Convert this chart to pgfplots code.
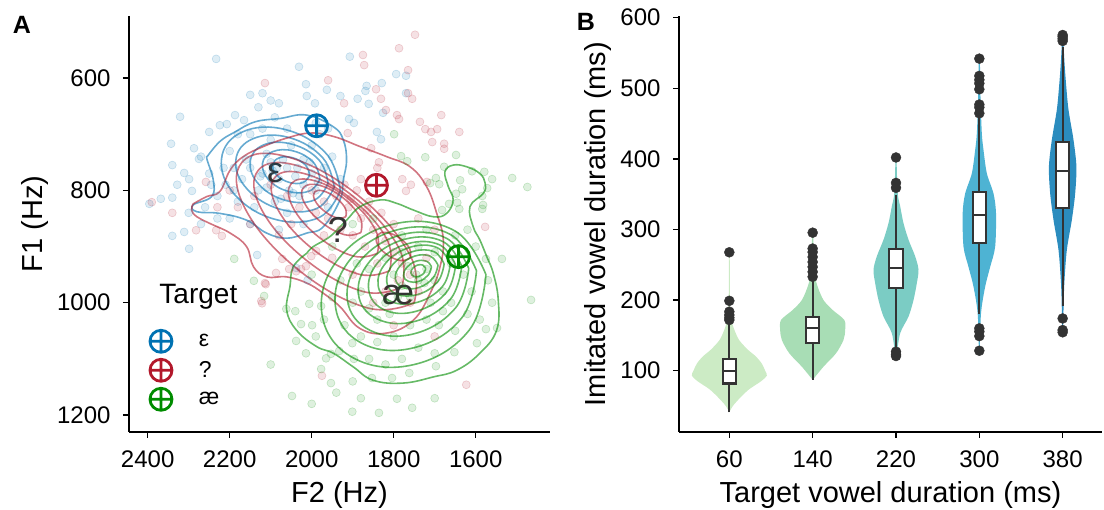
\documentclass[border=0pt]{standalone}
\usepackage{fontspec}
\setmainfont{Liberation Sans}
\usepackage{pgfplots}
\pgfplotsset{compat=1.18}
\definecolor{cblue}{RGB}{0,114,178}
\definecolor{cred}{RGB}{178,24,43}
\definecolor{cgreen}{RGB}{0,140,0}
\definecolor{dk}{RGB}{51,51,51}
\definecolor{va}{RGB}{204,235,197}
\definecolor{vb}{RGB}{168,221,181}
\definecolor{vc}{RGB}{123,204,196}
\definecolor{vd}{RGB}{78,179,211}
\definecolor{ve}{RGB}{43,140,190}
\pgfplotsset{
  myaxis/.style={scale only axis,
    axis x line=bottom, axis y line=left,
    axis line style={-, line width=1.5pt},
    tick style={line width=1.3pt, black}, major tick length=6pt, tick align=outside,
    /pgf/number format/assume math mode=true, /pgf/number format/1000 sep={},
    ticklabel style={font=\fontsize{24}{26}\selectfont},
    xticklabel style={yshift=-9pt}, yticklabel style={xshift=-9pt},
    label style={font=\fontsize{29}{31}\selectfont}},
  pts/.style={only marks, mark=*, mark size=4pt, forget plot, mark options={draw=#1, fill=#1, fill opacity=0.13, draw opacity=0.2, line width=0.6pt}},
  cont/.style={#1, draw opacity=0.6, line width=1.6pt, smooth, tension=0.7, forget plot, mark=none},
  tgt/.style={only marks, mark=oplus, mark size=11pt, line width=2.8pt, draw=#1, mark options={draw=#1, fill=white}},
  whisk/.style={dk, line width=2.2pt, forget plot},
  box/.style={draw=dk, fill=white, line width=2.2pt, line cap=rect, forget plot},
  outl/.style={only marks, mark=*, mark size=5pt, dk, forget plot},
  viol/.style={fill=#1, draw=none, smooth, tension=0.5, forget plot}
}
\begin{document}
\begin{tikzpicture}[x=1pt,y=1pt]
% ---------------- Panel A ----------------
\begin{axis}[myaxis, at={(129pt,78pt)}, anchor=south west, width=421pt, height=416pt,
  xmin=1418.8, xmax=2445.6, ymin=489.6, ymax=1230.1, x dir=reverse, y dir=reverse,
  axis line style={-},
  xtick={1600,1800,2000,2200,2400}, ytick={600,800,1000,1200},
  xlabel={F2 (Hz)}, ylabel={F1 (Hz)},
  xlabel style={at={(axis description cs:0.5,-0.151)}, anchor=center},
  ylabel style={at={(axis description cs:-0.223,0.5)}, anchor=center},
  legend style={at={(axis description cs:0.047,0.245)}, anchor=north west, draw=none, fill=none,
    font=\fontsize{23}{25}\selectfont, row sep=7pt, inner sep=0pt, nodes={inner sep=2pt}},
  legend cell align=left,
  legend image code/.code={\path[draw=none,fill=none] (0pt,-10pt) rectangle (48pt,10pt); \draw[#1] plot coordinates {(12pt,0pt)};}]
% scatter
\addplot[pts=cblue] coordinates {(2233,566)(2031,580)(2014,611)(1963,621)(2150,630)(2120,627)(2100,640)(2080,645)(2130,652)(2012,632)(1992,645)(2321,669)(2187,666)(2250,696)(2224,684)(2207,682)(2343,717)(2340,755)(2328,790)(2311,769)(2299,780)(2396,824)(2368,815)(2340,813)(2287,725)(2275,744)(2292,801)(1907,562)(1794,593)(1770,596)(1829,609)(1866,614)(1869,623)(1861,646)(1888,637)(1930,632)(1770,627)(1826,662)(1909,673)(1897,680)(1841,696)(1831,709)(2340,881)(2311,874)(2299,904)(2133,915)
(2150,760)(2120,770)(2100,750)(2080,780)(2060,760)(2040,775)(2020,790)(2000,770)(2110,795)(2170,780)(2190,760)(2210,790)(2230,810)(2180,820)(2140,830)(2090,820)(2060,840)(2030,810)(1990,800)(1970,760)(1950,740)(2000,720)(2050,720)(2100,710)(2150,700)(2200,730)(2250,770)(2260,830)(2200,850)(2150,860)(2080,870)(2020,860)(1960,830)(1930,780)(1980,700)(2060,690)(2120,690)(2180,700)(2230,850)(2270,860)(2160,745)(2070,745)(2020,745)(2110,735)(2130,800)(2095,765)(2045,805)(2190,800)(2245,790)(2038,938)(2010,960)
(2165,675)(2090,670)(1990,680)(1960,690)(2270,740)(2300,840)(2215,760)(2055,800)(2075,815)(2125,775)(2005,750)(1985,785)(2035,760)(2085,760)};
\addplot[pts=cred] coordinates {(2114,609)(1960,604)(2390,821)(2340,840)(2258,785)(1748,523)(1787,547)(1875,559)(1872,577)(1765,586)(1843,620)(1831,637)(1765,627)(1755,637)(1921,645)(1819,657)(1792,666)(1787,673)(1684,666)(1736,678)(1723,691)(1709,696)(1694,691)(1706,714)(1640,696)(1677,717)(1677,726)(1912,698)(1855,725)(1836,750)(1779,780)(1758,790)(1719,785)(1770,801)(2282,871)(2233,871)(2219,881)(2123,997)(2112,967)(2087,947)(2072,922)(2055,940)(2038,944)(2026,940)(2001,917)(1989,908)(2014,935)(1975,1130)(1623,1146)(2121,1001)(2114,965)(1577,865)
(2000,800)(1970,820)(1940,810)(1910,830)(1880,850)(1850,870)(1820,890)(1800,910)(1780,930)(1760,950)(1960,850)(1930,870)(1900,880)(1870,900)(1840,930)(1990,840)(2030,830)(2060,810)(2100,790)(2140,810)(2180,830)(1920,790)(1890,800)(1860,820)(1830,840)(1800,860)(1790,960)(1820,980)(1850,1000)(1760,1000)(1740,980)(1900,950)(1950,920)(1880,780)(1840,760)(1720,920)(1700,870)(1740,850)(1970,880)(2080,880)(1800,1040)(1700,1060)(1950,790)(1905,815)(1865,835)(2050,860)(2150,860)(2200,800)(2230,830)};
\addplot[pts=cgreen] coordinates {(1799,700)(1782,739)(1767,748)(1723,741)(1648,737)(1677,758)(1697,778)(1689,789)(1711,787)(1609,766)(1579,767)(1560,780)(1511,778)(1474,794)(1638,782)(1633,798)(1648,806)(1645,822)(1665,824)(1682,835)(1640,833)(1572,796)(1584,810)(1582,826)(1584,833)(2189,922)(2141,961)(2116,988)(2062,1011)(2040,1015)(2026,1038)(2006,1002)(1977,1006)(1999,1040)(2038,1068)(2014,1090)(1977,1118)(1953,1143)(2048,1166)(1965,1099)(1953,1091)(1536,922)(1575,922)(1548,1045)(1465,995)(1575,1047)(1597,1072)(1652,1088)(1792,1171)(1755,1187)(1836,1196)(1901,1194)(1697,1113)(1762,1125)(1804,1134)(1853,1134)(1901,1072)(1933,1086)(1897,1100)
(1800,950)(1780,970)(1760,990)(1740,960)(1720,940)(1700,960)(1680,980)(1660,1000)(1820,1000)(1840,1030)(1860,1010)(1880,980)(1900,1000)(1920,1040)(1880,1060)(1840,1070)(1800,1060)(1760,1040)(1720,1030)(1690,1040)(1650,1050)(1620,1020)(1610,980)(1630,950)(1660,930)(1700,910)(1740,900)(1780,910)(1820,920)(1860,940)(1890,930)(1930,960)(1950,990)(1970,1030)(1990,1060)(1600,900)(1620,870)(1650,880)(1700,1090)(1740,1080)(1780,1100)(1820,1110)(1860,1100)(1900,1140)(1940,1160)(1850,850)(1900,860)(1950,900)(2000,950)(1780,880)(1720,870)(1570,960)(1560,1000)(1590,1030)(1880,1170)(2100,1110)(2000,1180)(1700,1170)(1745,950)(1765,935)(1725,965)(1790,990)(1710,1000)(1810,1020)(1680,1015)};
% blue contours
\addplot[cont=cblue] coordinates {(2255,740)(2224,713)(2187,696)(2138,678)(2077,672)(2012,666)(1947,687)(1923,710)(1915,746)(1923,782)(1931,817)(1972,865)(2012,876)(2061,885)(2110,876)(2159,853)(2224,841)(2280,838)(2289,826)(2244,811)(2240,782)(2255,746)(2255,740)};
\addplot[cont=cblue] coordinates {(1930,800)(1981,848)(2087,852)(2186,809)(2220,744)(2169,696)(2063,692)(1964,735)(1930,800)};
\addplot[cont=cblue] coordinates {(1945,794)(1987,832)(2075,834)(2157,798)(2185,746)(2143,708)(2055,706)(1973,742)(1945,794)};
\addplot[cont=cblue] coordinates {(1960,787)(1993,817)(2063,818)(2128,790)(2150,749)(2117,719)(2047,718)(1982,746)(1960,787)};
\addplot[cont=cblue] coordinates {(1980,780)(2005,801)(2056,802)(2104,782)(2120,752)(2095,731)(2044,730)(1996,750)(1980,780)};
\addplot[cont=cblue] coordinates {(2005,773)(2021,786)(2054,786)(2085,773)(2095,755)(2079,742)(2046,742)(2015,755)(2005,773)};
% red contours
\addplot[cont=cred] coordinates {(2289,824)(2256,811)(2224,802)(2199,764)(2167,740)(2118,722)(2061,707)(2004,698)(1947,704)(1882,722)(1817,740)(1760,758)(1720,793)(1695,841)(1679,888)(1687,936)(1711,983)(1752,1031)(1817,1054)(1882,1046)(1931,1007)(1972,983)(2012,965)(2061,954)(2110,954)(2142,936)(2159,900)(2199,876)(2248,859)(2280,847)(2293,835)(2289,824)};
\addplot[cont=cred] coordinates {(1750,1000)(1865,1009)(2035,940)(2162,833)(2170,750)(2056,741)(1885,810)(1759,917)(1750,1000)};
\addplot[cont=cred] coordinates {(1780,972)(1875,980)(2017,922)(2123,833)(2130,764)(2035,756)(1893,814)(1787,903)(1780,972)};
\addplot[cont=cred] coordinates {(1810,943)(1886,949)(2000,903)(2084,832)(2090,777)(2014,771)(1900,817)(1816,888)(1810,943)};
\addplot[cont=cred] coordinates {(1840,912)(1898,917)(1983,883)(2046,830)(2050,788)(1992,783)(1907,817)(1844,871)(1840,912)};
\addplot[cont=cred] coordinates {(1880,875)(1919,879)(1976,857)(2018,822)(2020,795)(1981,791)(1924,813)(1882,848)(1880,875)};
\addplot[cont=cred] coordinates {(1917,847)(1938,849)(1969,837)(1992,818)(1993,803)(1972,801)(1941,813)(1918,832)(1917,847)};
\addplot[cont=cred] coordinates {(1760,920)(1782,925)(1815,915)(1839,897)(1840,880)(1818,875)(1785,885)(1761,904)(1760,920)};
% green contours
\addplot[cont=cgreen] coordinates {(2012,912)(2045,936)(2053,971)(2061,1013)(2037,1049)(1988,1078)(1947,1090)(1899,1114)(1850,1138)(1777,1143)(1703,1132)(1646,1120)(1590,1090)(1549,1049)(1545,995)(1557,948)(1573,918)(1590,888)(1606,865)(1614,829)(1581,805)(1577,787)(1590,770)(1622,758)(1655,755)(1675,767)(1667,793)(1655,817)(1671,841)(1703,847)(1752,835)(1793,823)(1833,817)(1882,829)(1915,853)(1955,882)(1996,900)(2012,912)};
\addplot[cont=cgreen] coordinates {(1575,950)(1616,1049)(1750,1110)(1899,1098)(1975,1020)(1934,921)(1800,860)(1651,872)(1575,950)};
\addplot[cont=cgreen] coordinates {(1598,943)(1634,1027)(1750,1080)(1878,1072)(1942,1007)(1906,923)(1790,870)(1663,878)(1598,943)};
\addplot[cont=cgreen] coordinates {(1617,939)(1649,1009)(1749,1055)(1858,1049)(1913,995)(1881,925)(1781,879)(1672,885)(1617,939)};
\addplot[cont=cgreen] coordinates {(1634,935)(1662,994)(1747,1033)(1840,1029)(1886,985)(1858,926)(1773,887)(1680,891)(1634,935)};
\addplot[cont=cgreen] coordinates {(1649,933)(1672,982)(1744,1015)(1822,1013)(1861,977)(1838,928)(1766,895)(1688,897)(1649,933)};
\addplot[cont=cgreen] coordinates {(1662,931)(1681,971)(1741,999)(1806,998)(1838,969)(1819,929)(1759,901)(1694,902)(1662,931)};
\addplot[cont=cgreen] coordinates {(1677,931)(1693,963)(1740,985)(1792,985)(1817,963)(1801,931)(1754,909)(1702,909)(1677,931)};
\addplot[cont=cgreen] coordinates {(1692,933)(1704,956)(1739,973)(1777,973)(1796,957)(1784,934)(1749,917)(1711,917)(1692,933)};
\addplot[cont=cgreen] coordinates {(1708,936)(1716,951)(1739,962)(1764,962)(1776,952)(1768,937)(1745,926)(1720,926)(1708,936)};
\addplot[cont=cgreen] coordinates {(1722,939)(1726,947)(1738,953)(1751,953)(1758,947)(1754,939)(1742,933)(1729,933)(1722,939)};
% targets
\addplot[tgt=cblue] coordinates {(1988,685)}; \addlegendentry{ε}
\addplot[tgt=cred] coordinates {(1842,791)}; \addlegendentry{?}
\addplot[tgt=cgreen] coordinates {(1642,918)}; \addlegendentry{æ}
\node[text=dk, font=\fontsize{36}{36}\selectfont] at (axis cs:2089,769) {ε};
\node[text=dk, font=\fontsize{36}{36}\selectfont] at (axis cs:1936,870) {?};
\node[text=dk, font=\fontsize{36}{36}\selectfont] at (axis cs:1789,986) {æ};
\node[anchor=west, font=\fontsize{28}{30}\selectfont] at (axis description cs:0.064,0.325) {Target};
\end{axis}
% ---------------- Panel B ----------------
\begin{axis}[myaxis, at={(679pt,78pt)}, anchor=south west, width=423pt, height=416pt,
  xmin=-0.604, xmax=4.472, ymin=13.2, ymax=602.4,
  axis line style={-},
  xtick={0,1,2,3,4}, xticklabels={60,140,220,300,380}, ytick={100,200,300,400,500,600},
  xlabel={Target vowel duration (ms)}, ylabel={Imitated vowel duration (ms)},
  xlabel style={at={(axis description cs:0.5,-0.151)}, anchor=center},
  ylabel style={at={(axis description cs:-0.1915,0.5)}, anchor=center}]
% violins
\addplot[viol=va] coordinates {(0,41)(0.036,49)(0.10,58)(0.23,73)(0.38,85)(0.45,93)(0.43,100)(0.39,110)(0.32,120)(0.22,130)(0.12,143)(0.07,155)(0.04,165)(0.02,175)(0.008,200)(0.004,268)(-0.004,268)(-0.008,200)(-0.02,175)(-0.04,165)(-0.07,155)(-0.12,143)(-0.22,130)(-0.32,120)(-0.39,110)(-0.43,100)(-0.45,93)(-0.38,85)(-0.23,73)(-0.10,58)(-0.036,49)(0,41)};
\addplot[viol=vb] coordinates {(1,87)(1.13,105.7)(1.28,124.6)(1.37,143.5)(1.39,157.7)(1.38,171.8)(1.24,186)(1.13,200)(1.06,219)(1.03,233)(1.015,257)(1.005,296)(0.995,296)(0.985,257)(0.97,233)(0.94,219)(0.87,200)(0.76,186)(0.62,171.8)(0.61,157.7)(0.63,143.5)(0.72,124.6)(0.87,105.7)(1,87)};
\addplot[viol=vc] coordinates {(2.005,120)(2.05,153)(2.15,176.5)(2.21,200)(2.25,224)(2.27,243)(2.23,262)(2.15,285.5)(2.09,309)(2.05,333)(2.02,352)(2.005,402)(1.995,402)(1.98,352)(1.95,333)(1.91,309)(1.85,285.5)(1.77,262)(1.73,243)(1.75,224)(1.79,200)(1.85,176.5)(1.95,153)(1.995,120)(2.005,120)};
\addplot[viol=vd] coordinates {(3.004,125)(3.02,181)(3.07,219)(3.13,247)(3.19,275.6)(3.20,323)(3.17,351)(3.09,379.5)(3.05,412.6)(3.03,436)(3.015,483)(3.008,530)(3.004,542)(2.996,542)(2.992,530)(2.985,483)(2.97,436)(2.95,412.6)(2.91,379.5)(2.83,351)(2.80,323)(2.81,275.6)(2.87,247)(2.93,219)(2.98,181)(2.996,125)(3.004,125)};
\addplot[viol=ve] coordinates {(4.004,154)(4.01,186)(4.02,224)(4.05,271)(4.11,313.5)(4.15,351)(4.165,389)(4.13,427)(4.07,469.6)(4.04,507)(4.02,540)(4.005,575)(3.995,575)(3.98,540)(3.96,507)(3.93,469.6)(3.87,427)(3.835,389)(3.85,351)(3.89,313.5)(3.95,271)(3.98,224)(3.99,186)(3.996,154)(4.004,154)};
% whiskers
\addplot[whisk] coordinates {(0,41)(0,169)};
\addplot[whisk] coordinates {(1,87)(1,228)};
\addplot[whisk] coordinates {(2,134)(2,349)};
\addplot[whisk] coordinates {(3,181)(3,460)};
\addplot[whisk] coordinates {(4,192)(4,559)};
% boxes
\addplot[box] coordinates {(-0.08,82)(0.08,82)(0.08,116.6)(-0.08,116.6)(-0.08,82)};
\addplot[box] coordinates {(0.92,139.7)(1.08,139.7)(1.08,175.6)(0.92,175.6)(0.92,139.7)};
\addplot[box] coordinates {(1.92,216.7)(2.08,216.7)(2.08,272)(1.92,272)(1.92,216.7)};
\addplot[box] coordinates {(2.92,281)(3.08,281)(3.08,353.6)(2.92,353.6)(2.92,281)};
\addplot[box] coordinates {(3.92,330)(4.08,330)(4.08,423.5)(3.92,423.5)(3.92,330)};
% medians
\addplot[whisk] coordinates {(-0.08,100)(0.08,100)};
\addplot[whisk] coordinates {(0.92,160)(1.08,160)};
\addplot[whisk] coordinates {(1.92,245)(2.08,245)};
\addplot[whisk] coordinates {(2.92,320.5)(3.08,320.5)};
\addplot[whisk] coordinates {(3.92,383)(4.08,383)};
% outliers
\addplot[outl] coordinates {(0,171.8)(0,175)(0,178.9)(0,183.6)(0,199)(0,267.7)};
\addplot[outl] coordinates {(1,233)(1,240)(1,247)(1,254)(1,261)(1,268)(1,273)(1,295.5)};
\addplot[outl] coordinates {(2,359)(2,366)(2,402)(2,127)(2,120.8)(2,123)};
\addplot[outl] coordinates {(3,464.6)(3,473)(3,477)(3,498.6)(3,507)(3,512)(3,517.6)(3,542)(3,160)(3,155.5)(3,149)(3,128.3)};
\addplot[outl] coordinates {(4,575.5)(4,573)(4,570)(4,567)(4,174)(4,157.6)(4,154.4)};
\end{axis}
\node[font=\bfseries\fontsize{25}{27}\selectfont] at (22pt,485pt) {A};
\node[font=\bfseries\fontsize{25}{27}\selectfont] at (586pt,488pt) {B};
\pgfresetboundingbox
\useasboundingbox (0,0) rectangle (1104pt,510pt);
\end{tikzpicture}
\end{document}
